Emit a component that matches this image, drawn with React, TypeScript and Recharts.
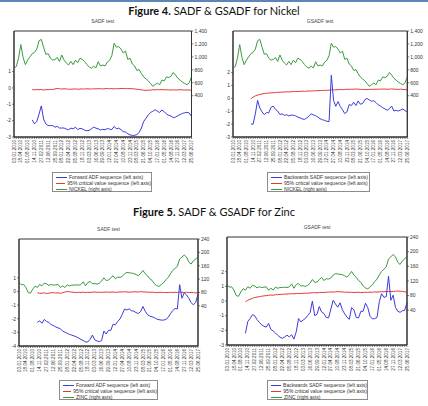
import { LineChart, Line, XAxis, YAxis, ReferenceArea } from 'recharts';

// every 15 weeks from 03.01.2010
const dateLabels = [
  '03.01.2010', '18.04.2010', '01.08.2010', '14.11.2010', '27.02.2011', '12.06.2011',
  '25.09.2011', '08.01.2012', '22.04.2012', '05.08.2012', '18.11.2012', '03.03.2013',
  '16.06.2013', '29.09.2013', '12.01.2014', '27.04.2014', '10.08.2014', '23.11.2014',
  '08.03.2015', '21.06.2015', '04.10.2015', '17.01.2016', '01.05.2016', '14.08.2016',
  '27.11.2016', '12.03.2017', '25.06.2017'
];

// prices, one reading every 5 weeks
const nickel = [
  830, 850, 980, 1190, 990, 880, 950, 1000, 1050, 1070,
  1120, 1250, 1270, 1150, 1040, 1050, 980, 950, 960, 990,
  930, 1030, 950, 905, 875, 930, 880, 950, 910, 980,
  960, 930, 880, 845, 825, 855, 830, 925, 860, 875,
  860, 920, 945, 1020, 1210, 1150, 1160, 1120, 1060, 1090,
  960, 980, 890, 860, 790, 805, 740, 690, 660, 630,
  590, 545, 570, 595, 570, 640, 630, 690, 680, 700,
  760, 720, 670, 640, 610, 590, 570, 600, 690
];

const zinc = [
  110, 103, 104, 95, 80, 78, 90, 99, 95, 104,
  100, 108, 106, 101, 104, 102, 103, 104, 95, 100,
  95, 103, 100, 102, 102, 103, 102, 104, 112, 100,
  110, 113, 106, 107, 105, 108, 114, 124, 116, 117,
  124, 130, 121, 126, 125, 128, 136, 140, 139, 138,
  137, 134, 130, 137, 146, 136, 130, 121, 116, 106,
  101, 98, 104, 109, 118, 125, 136, 146, 152, 158,
  180, 186, 192, 186, 171, 165, 175, 180, 187
];

// test sequences begin after the minimum window (8th reading)
const nickelForwardAdf = [
  -1.95, -2.2, -2.05, -1.6, -1.1, -1.9, -2.2, -2.3, -2.3, -2.3,
  -2.4, -2.35, -2.45, -2.45, -2.45, -2.52, -2.55, -2.46, -2.5, -2.4,
  -2.55, -2.47, -2.5, -2.58, -2.62, -2.6, -2.5, -2.4, -2.46, -2.5,
  -2.57, -2.53, -2.56, -2.48, -2.52, -2.55, -2.35, -2.5, -2.46, -2.55,
  -2.67, -2.7, -2.8, -2.87, -2.9, -2.9, -2.85, -2.72, -2.45, -2.05,
  -1.85, -1.65, -1.5, -1.43, -1.33, -1.43, -1.5, -1.35, -1.45, -1.6,
  -1.67, -1.72, -1.82, -1.78, -1.7, -1.63, -1.56, -1.52, -1.49, -1.53,
  -1.74
];

const nickelSadfCv = [
  -0.1, -0.12, -0.1, -0.11, -0.1, -0.13, -0.1, -0.11, -0.09, -0.1,
  -0.06, -0.03, -0.05, -0.07, -0.05, -0.06, -0.08, -0.08, -0.07, -0.06,
  -0.08, -0.07, -0.06, -0.07, -0.05, -0.06, -0.07, -0.05, -0.06, -0.04,
  -0.05, -0.06, -0.05, -0.03, -0.05, -0.04, -0.06, -0.04, -0.05, -0.03,
  -0.04, -0.03, -0.05, -0.04, -0.05, -0.06, -0.08, -0.1, -0.12, -0.14,
  -0.15, -0.13, -0.14, -0.11, -0.12, -0.1, -0.11, -0.1, -0.12, -0.11,
  -0.12, -0.13, -0.12, -0.13, -0.12, -0.11, -0.12, -0.13, -0.12, -0.13,
  -0.14
];

const nickelBackwardSadf = [
  -2.0, -2.0, -1.2, -0.15, -0.75, -1.05, -1.25, -1.1, -1.12, -0.7,
  -0.6, -0.85, -0.98, -1.25, -1.2, -1.32, -1.27, -1.36, -1.3, -1.3,
  -1.36, -1.45, -1.51, -1.6, -1.63, -1.52, -1.38, -1.2, -1.28, -1.35,
  -1.45, -1.58, -1.66, -1.71, -1.78, -1.8, 1.8, -0.15, -0.62, -0.25,
  -0.62, -0.88, -1.18, -1.05, -0.48, -0.55, -0.3, -0.55, -0.2, -0.45,
  -0.4, -0.1, 0.0, -0.12, -0.22, -0.18, -0.32, -0.5, -0.6, -0.72,
  -0.82, -0.92, -0.8, -0.6, -0.98, -0.93, -0.98, -0.9, -0.83, -0.95,
  -1.07
];

const nickelGsadfCv = [
  -0.02, 0.1, 0.2, 0.26, 0.3, 0.35, 0.38, 0.4, 0.42, 0.43,
  0.44, 0.45, 0.47, 0.48, 0.49, 0.5, 0.51, 0.5, 0.52, 0.53,
  0.54, 0.53, 0.55, 0.56, 0.55, 0.57, 0.58, 0.57, 0.59, 0.6,
  0.6, 0.61, 0.62, 0.62, 0.63, 0.64, 0.66, 0.67, 0.66, 0.68,
  0.69, 0.68, 0.7, 0.71, 0.7, 0.72, 0.71, 0.73, 0.72, 0.7,
  0.69, 0.7, 0.68, 0.7, 0.71, 0.7, 0.72, 0.71, 0.73, 0.72,
  0.73, 0.71, 0.72, 0.74, 0.72, 0.71, 0.7, 0.72, 0.7, 0.69,
  0.66
];

const zincForwardAdf = [
  -2.27, -2.15, -2.33, -2.05, -2.2, -2.27, -2.43, -2.5, -2.6, -2.67,
  -2.73, -2.9, -2.98, -3.07, -3.15, -3.2, -3.26, -3.33, -3.42, -3.52,
  -3.6, -3.7, -3.7, -3.5, -3.2, -3.55, -3.63, -3.68, -3.6, -2.9,
  -3.12, -2.85, -2.85, -2.4, -2.45, -2.2, -2.02, -1.67, -1.29, -1.36,
  -1.28, -1.41, -1.44, -1.55, -1.62, -1.47, -1.1, -1.45, -1.7, -1.8,
  -1.86, -1.92, -2.02, -2.07, -2.1, -2.1, -2.05, -1.9, -1.63, -1.4,
  -1.25, -1.28, 0.5, -0.5, -0.1, -0.25, -0.5, -0.82, -0.98, -0.8,
  -0.2
];

const zincSadfCv = [
  -0.1, -0.12, -0.13, -0.1, -0.15, -0.12, -0.1, -0.08, -0.12, -0.1,
  -0.13, -0.1, -0.04, 0.0, -0.02, -0.05, -0.06, -0.08, -0.06, -0.07,
  -0.05, -0.08, -0.06, -0.07, -0.05, -0.04, -0.06, -0.05, -0.07, -0.05,
  -0.04, -0.06, -0.05, -0.04, -0.06, -0.05, -0.03, -0.04, -0.02, -0.04,
  -0.05, -0.04, -0.02, -0.03, -0.04, -0.01, -0.03, -0.04, -0.05, -0.06,
  -0.05, -0.07, -0.08, -0.07, -0.06, -0.08, -0.07, -0.08, -0.06, -0.07,
  -0.06, -0.07, -0.05, -0.06, -0.07, -0.06, -0.08, -0.07, -0.08, -0.1,
  -0.09
];

const zincBackwardSadf = [
  -2.2, -1.4, -1.2, -0.93, -1.0, -1.27, -1.45, -1.62, -1.72, -1.78,
  -1.52, -1.93, -2.04, -2.18, -2.34, -2.47, -2.54, -2.45, -2.33, -2.45,
  -2.3, -2.6, -2.1, -1.2, -1.42, -1.3, -1.18, -0.98, -0.8, 0.0,
  -1.0, -0.9, -0.38, -0.75, -0.85, -1.12, -1.15, -0.55, 0.05, -0.2,
  -0.42, -0.12, -0.6, -0.88, -1.1, -1.25, -0.45, -0.6, -1.12, -1.15,
  -0.7, -0.7, -0.15, -0.45, -1.05, -1.22, -1.2, -1.12, -0.05, 0.5,
  0.25, 0.3, 1.7, 0.05, 0.4, -0.43, -0.7, -0.77, -0.66, -0.63,
  -0.1
];

const zincGsadfCv = [
  -0.05, 0.05, 0.12, 0.18, 0.24, 0.27, 0.3, 0.33, 0.35, 0.37,
  0.39, 0.41, 0.4, 0.43, 0.44, 0.45, 0.46, 0.48, 0.47, 0.49,
  0.5, 0.49, 0.51, 0.52, 0.51, 0.53, 0.54, 0.53, 0.55, 0.56,
  0.57, 0.56, 0.58, 0.59, 0.58, 0.6, 0.61, 0.62, 0.61, 0.63,
  0.64, 0.63, 0.62, 0.6, 0.61, 0.59, 0.6, 0.58, 0.59, 0.6,
  0.58, 0.59, 0.6, 0.59, 0.61, 0.6, 0.62, 0.61, 0.63, 0.64,
  0.63, 0.65, 0.66, 0.64, 0.66, 0.67, 0.68, 0.67, 0.66, 0.63,
  0.6
];

const STEP = 5;
const LABEL_EVERY = 15;
const SEQ_START = 8;
const LAST_WEEK = (nickel.length - 1) * STEP;
const weekTicks = nickel.map((_, i) => i * STEP);

const BLUE = '#3a3ade';
const RED = '#e23a34';
const GREEN = '#3a9a3e';
const AXIS = '#333';
const FONT = '"Liberation Sans", Arial, sans-serif';

function buildRows(price: number[], seq: number[], cv: number[]) {
  return price.map((p, i) => ({
    week: i * STEP,
    seq: i >= SEQ_START ? seq[i - SEQ_START] : null,
    cv: i >= SEQ_START ? cv[i - SEQ_START] : null,
    price: p
  }));
}

const DateTick = (props: any) => {
  const { x, y, payload } = props;
  const w = payload.value;
  if (w % LABEL_EVERY !== 0) return <g />;
  return (
    <text
      x={x}
      y={y}
      dy={1.6}
      transform={`rotate(-90, ${x}, ${y})`}
      textAnchor='end'
      fontSize={4.6}
      fontFamily={FONT}
      fill={AXIS}>
      {dateLabels[w / LABEL_EVERY]}
    </text>
  );
};

type PanelProps = {
  title: string;
  rows: any[];
  boxLeft: number;
  plotLeft: number;
  plotRight: number;
  plotTop: number;
  plotBottom: number;
  leftDomain: [number, number];
  leftTicks: number[];
  rightDomain: [number, number];
  rightTicks: number[];
};

const TOP_PAD = 6;
const X_AXIS_H = 32;
const RIGHT_W = 20;

function Panel(p: PanelProps) {
  const width = p.plotRight - p.boxLeft + RIGHT_W;
  const height = p.plotBottom - p.plotTop + TOP_PAD + X_AXIS_H;
  const tickStyle = { fontSize: 5, fill: AXIS, fontFamily: FONT };
  return (
    <>
      <div
        style={{
          position: 'absolute',
          left: p.plotLeft,
          width: p.plotRight - p.plotLeft,
          top: p.plotTop - 13,
          textAlign: 'center',
          fontSize: 5,
          lineHeight: '6px',
          color: '#444',
          fontFamily: FONT
        }}>
        {p.title}
      </div>
      <div style={{ position: 'absolute', left: p.boxLeft, top: p.plotTop - TOP_PAD }}>
        <LineChart
          width={width}
          height={height}
          data={p.rows}
          margin={{ top: TOP_PAD, right: 0, bottom: 0, left: 0 }}>
          <XAxis
            dataKey='week'
            type='number'
            domain={[0, LAST_WEEK]}
            ticks={weekTicks}
            interval={0}
            height={X_AXIS_H}
            tickSize={2}
            tickMargin={1}
            axisLine={{ stroke: AXIS }}
            tickLine={{ stroke: AXIS, strokeWidth: 0.6 }}
            tick={(t: any) => <DateTick {...t} />}
          />
          <YAxis
            yAxisId='left'
            orientation='left'
            type='number'
            width={p.plotLeft - p.boxLeft}
            domain={p.leftDomain}
            ticks={p.leftTicks}
            interval={0}
            allowDataOverflow
            tickSize={2}
            tickMargin={1}
            axisLine={{ stroke: AXIS }}
            tickLine={{ stroke: AXIS, strokeWidth: 0.6 }}
            tick={tickStyle}
          />
          <YAxis
            yAxisId='right'
            orientation='right'
            type='number'
            width={RIGHT_W}
            domain={p.rightDomain}
            ticks={p.rightTicks}
            interval={0}
            allowDataOverflow
            tickSize={2}
            tickMargin={1}
            axisLine={{ stroke: AXIS }}
            tickLine={{ stroke: AXIS, strokeWidth: 0.6 }}
            tick={tickStyle}
            tickFormatter={(v: number) => v.toLocaleString('en-US')}
          />
          <ReferenceArea
            yAxisId='left'
            x1={0}
            x2={LAST_WEEK}
            y1={p.leftDomain[0]}
            y2={p.leftDomain[1]}
            fill='none'
            stroke={AXIS}
            strokeWidth={1}
          />
          <Line
            yAxisId='right'
            dataKey='price'
            stroke={GREEN}
            strokeWidth={1}
            dot={false}
            isAnimationActive={false}
          />
          <Line
            yAxisId='left'
            dataKey='cv'
            stroke={RED}
            strokeWidth={1}
            dot={false}
            isAnimationActive={false}
          />
          <Line
            yAxisId='left'
            dataKey='seq'
            stroke={BLUE}
            strokeWidth={1}
            dot={false}
            isAnimationActive={false}
          />
        </LineChart>
      </div>
    </>
  );
}

function LegendBox(props: { left: number; top: number; width: number; labels: string[] }) {
  const colors = [BLUE, RED, GREEN];
  return (
    <div
      style={{
        position: 'absolute',
        left: props.left,
        top: props.top,
        width: props.width,
        height: 20,
        boxSizing: 'border-box',
        border: '1px solid #8c8c8c',
        paddingTop: 1,
        fontFamily: FONT,
        background: '#fff'
      }}>
      {props.labels.map((label, i) => (
        <div
          key={label}
          style={{ display: 'flex', alignItems: 'center', height: 6, fontSize: 5, color: '#333' }}>
          <span
            style={{
              display: 'inline-block',
              width: 11,
              marginLeft: 3,
              marginRight: 2,
              borderTop: `1px solid ${colors[i]}`
            }}
          />
          <span style={{ whiteSpace: 'nowrap' }}>{label}</span>
        </div>
      ))}
    </div>
  );
}

function FigureTitle(props: { top: number; num: string; text: string }) {
  return (
    <div
      style={{
        position: 'absolute',
        left: 0,
        width: 428,
        top: props.top,
        textAlign: 'center',
        fontFamily: 'Lato, "Open Sans", sans-serif',
        fontSize: 11,
        lineHeight: '12px',
        color: '#111'
      }}>
      <b>{props.num}</b> {props.text}
    </div>
  );
}

export default function App() {
  const nickelLeft = buildRows(nickel, nickelForwardAdf, nickelSadfCv);
  const nickelRight = buildRows(nickel, nickelBackwardSadf, nickelGsadfCv);
  const zincLeft = buildRows(zinc, zincForwardAdf, zincSadfCv);
  const zincRight = buildRows(zinc, zincBackwardSadf, zincGsadfCv);
  const nickelTicks = [400, 600, 800, 1000, 1200, 1400];
  const zincTicks = [40, 80, 120, 160, 200, 240];

  return (
    <div
      style={{
        position: 'absolute',
        left: 0,
        top: 0,
        width: 428,
        height: 406,
        background: '#fff',
        overflow: 'hidden'
      }}>
      <div style={{ position: 'absolute', left: 0, top: 0, width: 428, height: 2, background: '#5a86b8' }} />
      <FigureTitle top={5} num='Figure 4.' text='SADF & GSADF for Nickel' />
      <FigureTitle top={206} num='Figure 5.' text='SADF & GSADF for Zinc' />

      <Panel
        title='SADF test'
        rows={nickelLeft}
        boxLeft={0}
        plotLeft={14}
        plotRight={191.5}
        plotTop={31}
        plotBottom={137}
        leftDomain={[-3, 3.48]}
        leftTicks={[-3, -2, -1, 0, 1]}
        rightDomain={[-238, 1400]}
        rightTicks={nickelTicks}
      />
      <Panel
        title='GSADF test'
        rows={nickelRight}
        boxLeft={214}
        plotLeft={233}
        plotRight={407.3}
        plotTop={31}
        plotBottom={137}
        leftDomain={[-3, 5.24]}
        leftTicks={[-3, -2, -1, 0, 1, 2]}
        rightDomain={[-238, 1400]}
        rightTicks={nickelTicks}
      />
      <Panel
        title='SADF test'
        rows={zincLeft}
        boxLeft={0}
        plotLeft={19}
        plotRight={198}
        plotTop={239}
        plotBottom={346}
        leftDomain={[-4, 3.85]}
        leftTicks={[-4, -3, -2, -1, 0, 1]}
        rightDomain={[-80, 240]}
        rightTicks={zincTicks}
      />
      <Panel
        title='GSADF test'
        rows={zincRight}
        boxLeft={214}
        plotLeft={227}
        plotRight={407}
        plotTop={237}
        plotBottom={345}
        leftDomain={[-3, 4.37]}
        leftTicks={[-3, -2, -1, 0, 1, 2]}
        rightDomain={[-55, 240]}
        rightTicks={zincTicks}
      />

      <LegendBox
        left={52}
        top={172}
        width={100}
        labels={['Forward ADF sequence (left axis)', '95% critical value sequence (left axis)', 'NICKEL (right axis)']}
      />
      <LegendBox
        left={267}
        top={172}
        width={103}
        labels={['Backwards SADF sequence (left axis)', '95% critical value sequence (left axis)', 'NICKEL (right axis)']}
      />
      <LegendBox
        left={59}
        top={380}
        width={99}
        labels={['Forward ADF sequence (left axis)', '95% critical value sequence (left axis)', 'ZINC (right axis)']}
      />
      <LegendBox
        left={267}
        top={380}
        width={101}
        labels={['Backwards SADF sequence (left axis)', '95% critical value sequence (left axis)', 'ZINC (right axis)']}
      />
    </div>
  );
}
